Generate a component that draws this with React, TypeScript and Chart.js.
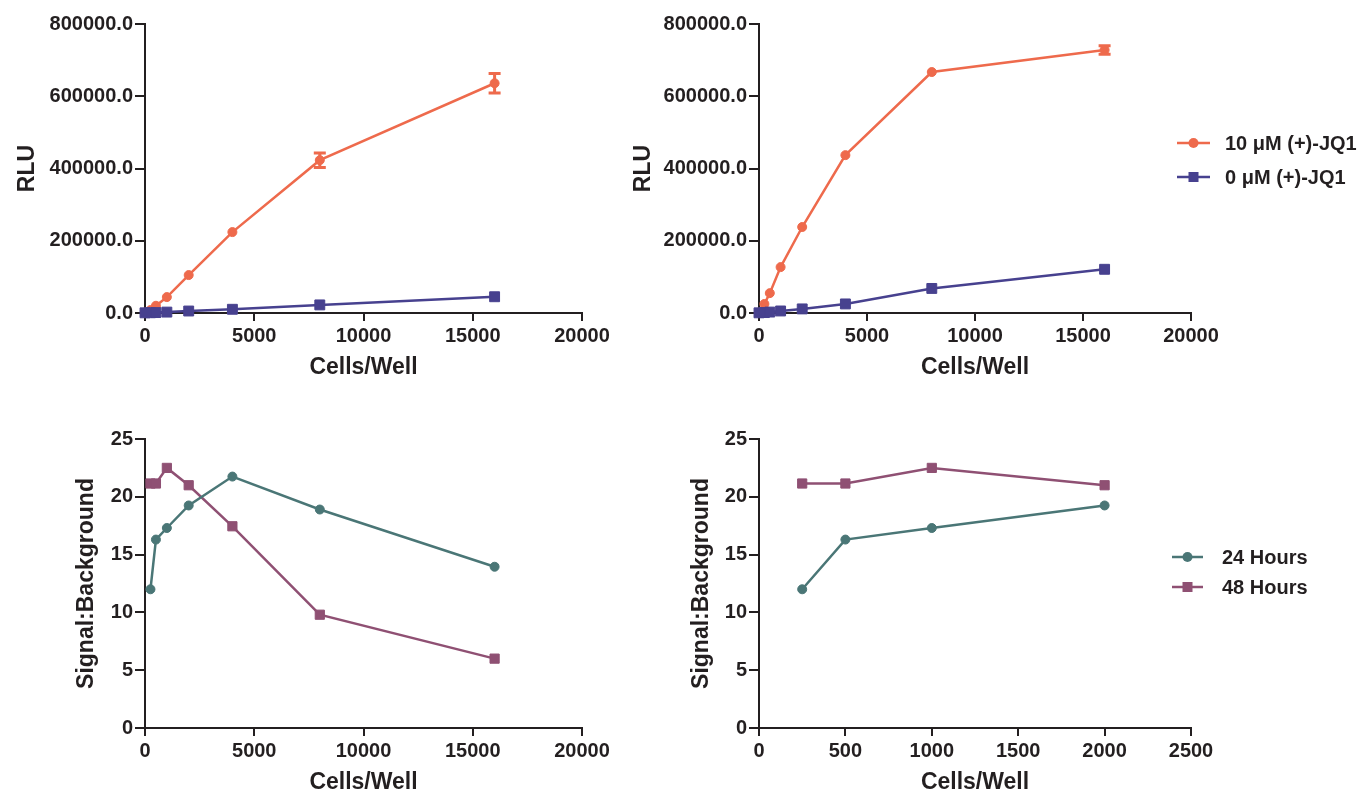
import React, { useEffect, useRef } from "react";
import { Chart, registerables } from "chart.js";

Chart.register(...registerables);

// ---------------- DATA ----------------
const cellsRLU = [0, 250, 500, 1000, 2000, 4000, 8000, 16000];
const rlu24h10uM = [1000, 8000, 20000, 44000, 105000, 224000, 423000, 636000];
const rlu24h10uMErr = [0, 0, 0, 0, 0, 0, 20000, 27000];
const rlu24h0uM = [500, 700, 1200, 2500, 5500, 10300, 22400, 45000];
const rlu48h10uM = [1000, 25000, 55000, 127000, 238000, 437000, 667000, 728000];
const rlu48h10uMErr = [0, 0, 0, 0, 0, 0, 0, 12000];
const rlu48h0uM = [500, 1200, 2600, 5600, 11300, 25100, 68000, 121000];

const cellsSB = [250, 500, 1000, 2000, 4000, 8000, 16000];
const sb24h = [12.0, 16.3, 17.3, 19.25, 21.75, 18.9, 13.95];
const sb48h = [21.15, 21.15, 22.5, 21.0, 17.45, 9.8, 6.0];

const cellsSBLow = [250, 500, 1000, 2000];
const sb24hLow = [12.0, 16.3, 17.3, 19.25];
const sb48hLow = [21.15, 21.15, 22.5, 21.0];

const rluTicks = { min: 0, max: 800000, step: 200000 };
const cellTicksWide = { min: 0, max: 20000, step: 5000 };
const cellTicksLow = { min: 0, max: 2500, step: 500 };
const sbTicks = { min: 0, max: 25, step: 5 };

const legendRLU = ["10 \u03bcM (+)-JQ1", "0 \u03bcM (+)-JQ1"];
const legendSB = ["24 Hours", "48 Hours"];

const xTitle = "Cells/Well";
const yTitleRLU = "RLU";
const yTitleSB = "Signal:Background";

// ---------------- STYLE ----------------
const ORANGE = "#EE6A4C";
const INDIGO = "#47418F";
const TEAL = "#4A7676";
const MAUVE = "#8F5073";
const INK = "#231f20";
const FONT = '"Liberation Sans", Arial, Helvetica, sans-serif';

const errorBarPlugin = {
  id: "errorBars",
  afterDatasetsDraw(chart: any) {
    const ctx = chart.ctx;
    chart.data.datasets.forEach((ds: any, i: number) => {
      const errs = ds.errors;
      if (!errs) return;
      const meta = chart.getDatasetMeta(i);
      const yScale = chart.scales[meta.yAxisID];
      meta.data.forEach((pt: any, j: number) => {
        const e = errs[j];
        if (!e) return;
        const v = ds.data[j].y;
        const x = pt.x;
        const yT = yScale.getPixelForValue(v + e);
        const yB = yScale.getPixelForValue(v - e);
        ctx.save();
        ctx.strokeStyle = ds.borderColor;
        ctx.lineWidth = 3;
        ctx.beginPath();
        ctx.moveTo(x, yT);
        ctx.lineTo(x, yB);
        ctx.moveTo(x - 6, yT);
        ctx.lineTo(x + 6, yT);
        ctx.moveTo(x - 6, yB);
        ctx.lineTo(x + 6, yB);
        ctx.stroke();
        ctx.restore();
      });
    });
  },
};

type Rect = { left: number; top: number; width: number; height: number };
type Area = { left: number; top: number; right: number; bottom: number };

function mkDataset(label: string, xs: number[], ys: number[], color: string, style: string, radius: number, order: number, errs?: number[]) {
  return {
    label,
    data: xs.map((x, i) => ({ x, y: ys[i] })),
    borderColor: color,
    backgroundColor: color,
    pointBackgroundColor: color,
    pointBorderColor: color,
    pointBorderWidth: 1,
    pointStyle: style,
    pointRadius: radius,
    borderWidth: 2.5,
    tension: 0,
    fill: false,
    clip: false,
    order,
    errors: errs,
  };
}

function ChartPanel(props: {
  rect: Rect;
  area: Area;
  datasets: any[];
  xt: { min: number; max: number; step: number };
  yt: { min: number; max: number; step: number };
  yFmt: (v: number) => string;
  yTitle: string;
  yTitleCenter: number;
  xTitleCenter: number;
}) {
  const ref = useRef<HTMLCanvasElement | null>(null);
  const { rect, area } = props;
  useEffect(() => {
    if (!ref.current) return;
    const yWidth = area.left - rect.left;
    const xHeight = rect.top + rect.height - area.bottom;
    const titleLH = 23 * 1.2;
    const yTitlePad = props.yTitleCenter - rect.left - titleLH / 2;
    const xTitlePad = rect.top + rect.height - props.xTitleCenter - titleLH / 2;
    const axisCommon = {
      border: { display: true, color: INK, width: 2 },
    };
    const chart = new Chart(ref.current, {
      type: "line",
      data: { datasets: props.datasets },
      plugins: [errorBarPlugin],
      options: {
        animation: false,
        responsive: false,
        maintainAspectRatio: false,
        layout: {
          padding: {
            left: 0,
            top: area.top - rect.top,
            right: rect.left + rect.width - area.right,
            bottom: 0,
          },
        },
        plugins: { legend: { display: false }, tooltip: { enabled: false } },
        scales: {
          x: {
            ...axisCommon,
            type: "linear",
            min: props.xt.min,
            max: props.xt.max,
            offset: false,
            grid: { display: true, drawOnChartArea: false, drawTicks: true, tickLength: 8, color: INK, lineWidth: 2 },
            ticks: {
              stepSize: props.xt.step,
              autoSkip: false,
              maxRotation: 0,
              padding: 3,
              color: INK,
              font: { family: FONT, size: 20, weight: "bold" },
              callback: (v: any) => String(v),
            },
            title: {
              display: true,
              text: xTitle,
              color: INK,
              font: { family: FONT, size: 23, weight: "bold", lineHeight: 1.2 },
              padding: { top: 0, bottom: xTitlePad },
            },
            afterFit: (s: any) => {
              s.height = xHeight;
            },
          },
          y: {
            ...axisCommon,
            type: "linear",
            min: props.yt.min,
            max: props.yt.max,
            grid: { display: true, drawOnChartArea: false, drawTicks: true, tickLength: 10, color: INK, lineWidth: 2 },
            ticks: {
              stepSize: props.yt.step,
              autoSkip: false,
              padding: 2,
              color: INK,
              font: { family: FONT, size: 20, weight: "bold" },
              callback: (v: any) => props.yFmt(Number(v)),
            },
            title: {
              display: true,
              text: props.yTitle,
              color: INK,
              font: { family: FONT, size: 23, weight: "bold", lineHeight: 1.2 },
              padding: { top: yTitlePad, bottom: 0 },
            },
            afterFit: (s: any) => {
              s.width = yWidth;
            },
          },
        },
      } as any,
    });
    return () => chart.destroy();
  }, []);
  return (
    <canvas
      ref={ref}
      width={rect.width}
      height={rect.height}
      style={{ position: "absolute", left: rect.left, top: rect.top, width: rect.width, height: rect.height }}
    />
  );
}

function LegendRow(props: { x: number; y: number; textX: number; color: string; shape: "circle" | "square"; label: string; lineW: number }) {
  const { x, y, color, shape, label, lineW } = props;
  return (
    <>
      <svg
        width={lineW}
        height={14}
        style={{ position: "absolute", left: x, top: y - 7, overflow: "visible" }}
      >
        <line x1={0} y1={7} x2={lineW} y2={7} stroke={color} strokeWidth={2.5} />
        {shape === "circle" ? (
          <circle cx={lineW / 2} cy={7} r={5} fill={color} />
        ) : (
          <rect x={lineW / 2 - 5} y={2} width={10} height={10} fill={color} />
        )}
      </svg>
      <div
        style={{
          position: "absolute",
          left: props.textX,
          top: y - 12,
          lineHeight: "24px",
          fontFamily: FONT,
          fontSize: 20,
          fontWeight: "bold",
          color: INK,
          whiteSpace: "nowrap",
        }}
      >
        {label}
      </div>
    </>
  );
}

export default function App() {
  const fmtRLU = (v: number) => v.toFixed(1);
  const fmtInt = (v: number) => String(v);
  return (
    <div style={{ position: "fixed", left: 0, top: 0, width: 1364, height: 792, overflow: "hidden", background: "#fff" }}>
      <ChartPanel
        rect={{ left: 0, top: 0, width: 615, height: 400 }}
        area={{ left: 145, top: 24, right: 582, bottom: 313 }}
        datasets={[
          mkDataset(legendRLU[0], cellsRLU, rlu24h10uM, ORANGE, "circle", 4.5, 2, rlu24h10uMErr),
          mkDataset(legendRLU[1], cellsRLU, rlu24h0uM, INDIGO, "rect", 7, 1),
        ]}
        xt={cellTicksWide}
        yt={rluTicks}
        yFmt={fmtRLU}
        yTitle={yTitleRLU}
        yTitleCenter={28}
        xTitleCenter={368}
      />
      <ChartPanel
        rect={{ left: 615, top: 0, width: 749, height: 400 }}
        area={{ left: 759, top: 24, right: 1191, bottom: 313 }}
        datasets={[
          mkDataset(legendRLU[0], cellsRLU, rlu48h10uM, ORANGE, "circle", 4.5, 2, rlu48h10uMErr),
          mkDataset(legendRLU[1], cellsRLU, rlu48h0uM, INDIGO, "rect", 7, 1),
        ]}
        xt={cellTicksWide}
        yt={rluTicks}
        yFmt={fmtRLU}
        yTitle={yTitleRLU}
        yTitleCenter={644}
        xTitleCenter={368}
      />
      <ChartPanel
        rect={{ left: 0, top: 400, width: 615, height: 392 }}
        area={{ left: 145, top: 439, right: 582, bottom: 728 }}
        datasets={[
          mkDataset(legendSB[0], cellsSB, sb24h, TEAL, "circle", 4.5, 1),
          mkDataset(legendSB[1], cellsSB, sb48h, MAUVE, "rect", 6.5, 2),
        ]}
        xt={cellTicksWide}
        yt={sbTicks}
        yFmt={fmtInt}
        yTitle={yTitleSB}
        yTitleCenter={87}
        xTitleCenter={783}
      />
      <ChartPanel
        rect={{ left: 615, top: 400, width: 749, height: 392 }}
        area={{ left: 759, top: 439, right: 1191, bottom: 728 }}
        datasets={[
          mkDataset(legendSB[0], cellsSBLow, sb24hLow, TEAL, "circle", 4.5, 1),
          mkDataset(legendSB[1], cellsSBLow, sb48hLow, MAUVE, "rect", 6.5, 2),
        ]}
        xt={cellTicksLow}
        yt={sbTicks}
        yFmt={fmtInt}
        yTitle={yTitleSB}
        yTitleCenter={702}
        xTitleCenter={783}
      />
      <LegendRow x={1177} y={143} textX={1225} color={ORANGE} shape="circle" label={legendRLU[0]} lineW={33} />
      <LegendRow x={1177} y={177} textX={1225} color={INDIGO} shape="square" label={legendRLU[1]} lineW={33} />
      <LegendRow x={1172} y={557} textX={1222} color={TEAL} shape="circle" label={legendSB[0]} lineW={31} />
      <LegendRow x={1172} y={587} textX={1222} color={MAUVE} shape="square" label={legendSB[1]} lineW={31} />
    </div>
  );
}
